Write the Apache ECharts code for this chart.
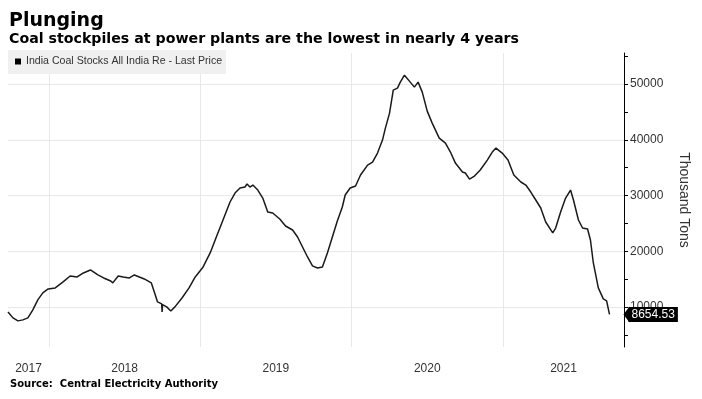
<!DOCTYPE html>
<html>
<head>
<meta charset="utf-8">
<style>
html, body { margin: 0; padding: 0; background: #fff; }
#chart { width: 702px; height: 399px; }
</style>
<script src="https://cdn.jsdelivr.net/npm/echarts@6/dist/echarts.min.js"></script>
</head>
<body>
<div id="chart"></div>
<script>
var dates = [
  '2017-09-24','2017-10-06','2017-10-18','2017-10-30','2017-11-11','2017-11-23','2017-12-05','2017-12-17','2017-12-30',
  '2018-01-16','2018-02-04','2018-02-21','2018-03-10','2018-03-25','2018-04-11','2018-04-29','2018-05-13','2018-05-30',
  '2018-06-04','2018-06-17','2018-06-29','2018-07-14','2018-07-26','2018-08-07','2018-08-19','2018-09-05','2018-09-13',
  '2018-09-20','2018-09-25','2018-09-30','2018-10-01','2018-10-02','2018-10-12','2018-10-22','2018-11-01','2018-11-18',
  '2018-12-05','2018-12-20',
  '2019-01-08','2019-01-25','2019-02-08','2019-02-25','2019-03-14','2019-03-26','2019-04-07','2019-04-19','2019-04-24',
  '2019-05-01','2019-05-08','2019-05-20','2019-06-01','2019-06-13','2019-06-25','2019-07-12','2019-07-26','2019-08-12',
  '2019-08-24','2019-09-05','2019-09-17','2019-09-29','2019-10-11','2019-10-23','2019-11-04','2019-11-16','2019-11-28',
  '2019-12-10','2019-12-17','2019-12-29',
  '2020-01-11','2020-01-23','2020-02-09','2020-02-21','2020-03-04','2020-03-16','2020-03-23','2020-04-02','2020-04-11',
  '2020-04-21','2020-04-28','2020-05-08','2020-05-20','2020-06-01','2020-06-10','2020-06-20','2020-07-02','2020-07-14',
  '2020-07-31','2020-08-15','2020-08-27','2020-09-08','2020-09-25','2020-10-02','2020-10-12','2020-10-24','2020-11-07',
  '2020-11-24','2020-12-06','2020-12-15','2020-12-30',
  '2021-01-13','2021-01-27','2021-02-13','2021-02-25','2021-03-09','2021-03-21','2021-04-02','2021-04-14','2021-05-01',
  '2021-05-08','2021-05-20','2021-06-01','2021-06-13','2021-06-20','2021-07-02','2021-07-12','2021-07-24','2021-07-31',
  '2021-08-07','2021-08-19','2021-08-31','2021-09-08','2021-09-15'
];
var stocks = [
  9100, 8030, 7490, 7670, 8030, 9460, 11260, 12510, 13230,
  13410, 14490, 15560, 15380, 16100, 16640, 15740, 15200, 14660,
  14310, 15560, 15380, 15200, 15740, 15380, 15020, 14310, 12510,
  10900, 10720, 10540, 9100, 10400, 10000, 9280, 10000, 11610,
  13410, 15380,
  17180, 19690, 22380, 25610, 28840, 30450, 31350, 31530, 32070,
  31530, 31890, 30990, 29550, 27040, 26860, 25790, 24530, 23810,
  22560, 20760, 18970, 17360, 17000, 17180, 19690, 22560, 25430,
  27940, 30090, 31350,
  31710, 33680, 35470, 36010, 37630, 39960, 42110, 44800, 48930,
  49290, 50370, 51620, 50550, 49470, 50370, 48570, 45160, 43010,
  40320, 39420, 37810, 35830, 34220, 34040, 32960, 33500, 34580,
  36370, 37810, 38520, 37630,
  36370, 33680, 32430, 31890, 30630, 29200, 27760, 25250, 23280,
  24170, 27040, 29550, 30990, 29200, 25610, 24170, 23990, 22020,
  17890, 13410, 11440, 11080, 8654.53
];
var yearStarts = ['2018-01-01', '2019-01-01', '2020-01-01', '2021-01-01'];
var valueLabels = [10000, 20000, 30000, 40000, 50000];
var minorTicks = [5000, 15000, 25000, 35000, 45000, 55000];
var seriesName = 'India Coal Stocks All India Re - Last Price';

function toTime(s) {
  var p = s.split('-');
  return new Date(+p[0], p[1] - 1, +p[2]).getTime();
}

var xMin = toTime('2017-09-24');
var xMax = toTime('2021-10-20');
var yearTimes = yearStarts.map(toTime);
// year labels sit in the middle of each visible year span
var bounds = [xMin].concat(yearTimes, [xMax]);
var yearMids = [];
for (var i = 0; i < bounds.length - 1; i++) {
  yearMids.push((bounds[i] + bounds[i + 1]) / 2);
}

var points = [];
for (var j = 0; j < dates.length; j++) {
  points.push([toTime(dates[j]), stocks[j]]);
}

var chart = echarts.init(document.getElementById('chart'), null, { renderer: 'canvas' });
chart.setOption({
  animation: false,
  backgroundColor: '#fff',
  title: [{
    text: 'Plunging',
    left: 9, top: 12, padding: 0,
    textStyle: { fontFamily: 'DejaVu Sans', fontWeight: 'bold', fontSize: 19, color: '#000' }
  }, {
    text: 'Coal stockpiles at power plants are the lowest in nearly 4 years',
    left: 9, top: 32, padding: 0,
    textStyle: { fontFamily: 'DejaVu Sans', fontWeight: 'bold', fontSize: 14.2, color: '#000' }
  }, {
    text: 'Source:  Central Electricity Authority',
    left: 10, top: 379, padding: 0,
    textStyle: { fontFamily: 'DejaVu Sans', fontWeight: 'bold', fontSize: 10, color: '#000' }
  }],
  legend: {
    data: [seriesName],
    left: 8, top: 50,
    padding: [6, 4, 7, 7],
    icon: 'rect',
    itemWidth: 6, itemHeight: 6,
    itemGap: 4,
    backgroundColor: '#f0f0f0',
    textStyle: { fontFamily: 'Liberation Sans', fontSize: 10.6, color: '#333' }
  },
  grid: { left: 8, right: 78, top: 53, bottom: 52 },
  xAxis: {
    type: 'value',
    min: xMin, max: xMax,
    axisLine: { show: false },
    axisTick: { show: false, customValues: yearTimes },
    splitLine: { show: true, lineStyle: { color: '#e8e8e8', width: 1 } },
    axisLabel: {
      customValues: yearMids,
      margin: 16,
      fontFamily: 'Liberation Sans', fontSize: 12, color: '#333',
      formatter: function (v) { return String(new Date(v).getFullYear()); }
    }
  },
  yAxis: [{
    type: 'value',
    position: 'right',
    min: 2800, max: 55600,
    name: 'Thousand Tons',
    nameLocation: 'middle',
    nameRotate: -90,
    nameGap: 53,
    nameTextStyle: { fontFamily: 'Liberation Sans', fontSize: 14, color: '#333' },
    axisLine: { show: true, lineStyle: { color: '#000', width: 1 } },
    axisTick: { show: true, customValues: valueLabels, length: 4, lineStyle: { color: '#000' } },
    axisLabel: {
      customValues: valueLabels, margin: 6,
      fontFamily: 'Liberation Sans', fontSize: 12, color: '#333',
      formatter: function (v) { return String(v); }
    },
    splitLine: { show: true, lineStyle: { color: '#e8e8e8', width: 1 } }
  }, {
    type: 'value',
    position: 'right',
    min: 2800, max: 55600,
    axisLine: { show: false },
    axisTick: { show: true, customValues: minorTicks, length: 4, lineStyle: { color: '#000' } },
    axisLabel: { show: false },
    splitLine: { show: false }
  }],
  series: [{
    name: seriesName,
    type: 'line',
    yAxisIndex: 0,
    data: points,
    showSymbol: false,
    itemStyle: { color: '#000' },
    lineStyle: { color: '#1a1a1a', width: 1.5 },
    endLabel: {
      show: true,
      distance: 19,
      formatter: function (p) { return String(p.value[1]); },
      color: '#fff',
      backgroundColor: '#000',
      padding: [2, 3, 1, 3],
      fontFamily: 'Liberation Sans',
      fontSize: 12
    },
    markPoint: {
      silent: true,
      symbol: 'triangle',
      symbolRotate: 90,
      symbolSize: [16, 6],
      symbolOffset: [17, 0],
      itemStyle: { color: '#000' },
      label: { show: false },
      data: [{ coord: points[points.length - 1] }]
    }
  }]
});
</script>
</body>
</html>
